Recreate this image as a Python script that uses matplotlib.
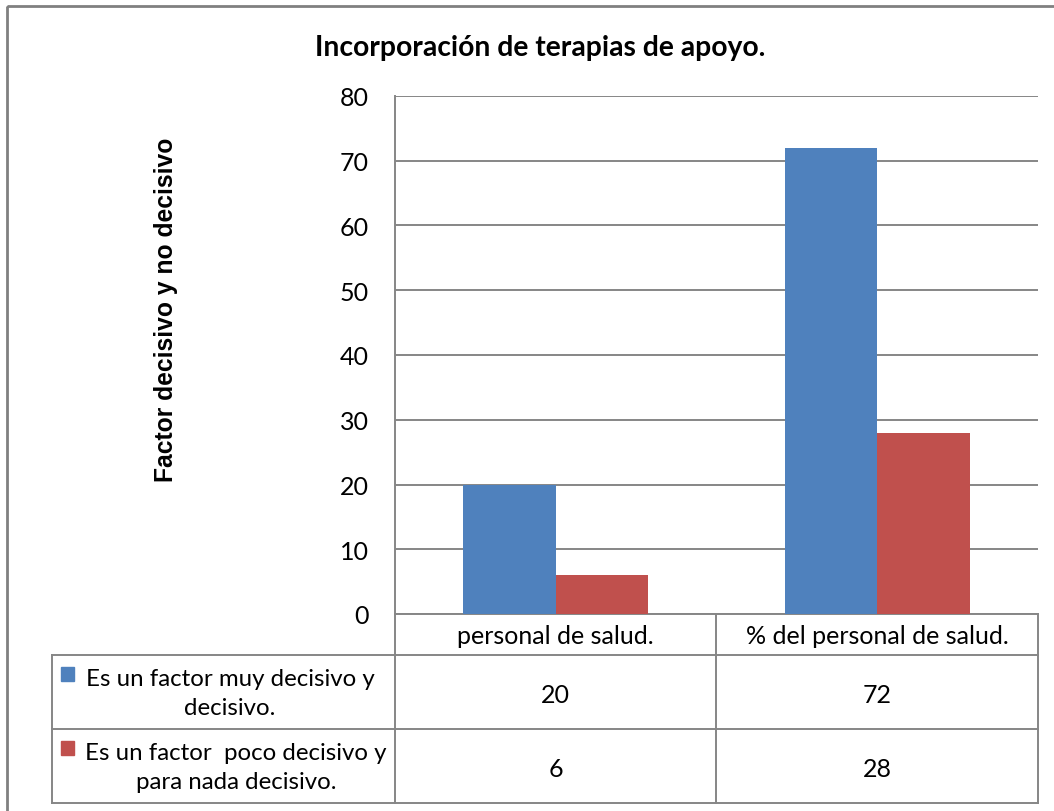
import matplotlib.pyplot as plt
from matplotlib.patches import Rectangle

# data
categories = ['personal de salud.', '% del personal de salud.']
series_names = ['Es un factor muy decisivo y\ndecisivo.',
                'Es un factor  poco decisivo y\npara nada decisivo.']
decisivo = [20, 72]
no_decisivo = [6, 28]
yticks = [0, 10, 20, 30, 40, 50, 60, 70, 80]

colors = ['#4F81BD', '#C0504D']
grid_c = '#868686'
W, H = 1054, 812

plt.rcParams['font.family'] = ['Lato', 'DejaVu Sans']

fig = plt.figure(figsize=(W / 100, H / 100), dpi=100)

# overlay axes in pixel coords for frame and data table
ov = fig.add_axes([0, 0, 1, 1])
ov.set_xlim(0, W)
ov.set_ylim(H, 0)
ov.axis('off')

# plot area
x0, x1, ytop, ybot = 395, 1038, 97, 615
ax = fig.add_axes([x0 / W, 1 - ybot / H, (x1 - x0) / W, (ybot - ytop) / H])
ax.set_zorder(2)
ax.patch.set_alpha(0)

bw = 0.287
xs = range(len(categories))
ax.bar([x - bw / 2 for x in xs], decisivo, bw, color=colors[0], zorder=3)
ax.bar([x + bw / 2 for x in xs], no_decisivo, bw, color=colors[1], zorder=3)
ax.set_xlim(-0.5, len(categories) - 0.5)
ax.set_ylim(0, 80)
ax.set_yticks(yticks)
ax.set_xticks([])
ax.yaxis.grid(True, color=grid_c, linewidth=1.4, zorder=0)
ax.tick_params(axis='y', length=0, labelsize=18, pad=19)
for s in ['top', 'right', 'bottom']:
    ax.spines[s].set_visible(False)
ax.spines['left'].set_color(grid_c)
ax.spines['left'].set_linewidth(1.4)

# outer frame
ov.add_patch(Rectangle((7, 7), 1100, 900, fill=False, edgecolor='#808080', linewidth=2))

# title and y label
ov.text(540, 48, 'Incorporación de terapias de apoyo.', ha='center', va='center',
        fontsize=20.3, fontweight='bold')
ov.text(166, 310, 'Factor decisivo y no decisivo', ha='center', va='center',
        rotation=90, fontsize=17.7, fontweight='bold', family='Liberation Sans')

# data table
col_x = [52, 395, 716, 1038]
row_y = [615, 656, 730, 804]
lw = 1.4
ov.plot([col_x[1], col_x[3]], [row_y[0], row_y[0]], color=grid_c, lw=lw)
for y in row_y[1:]:
    ov.plot([col_x[0], col_x[3]], [y, y], color=grid_c, lw=lw)
ov.plot([col_x[0], col_x[0]], [row_y[1], row_y[3]], color=grid_c, lw=lw)
for x in col_x[1:]:
    ov.plot([x, x], [row_y[0], row_y[3]], color=grid_c, lw=lw)

for j, cat in enumerate(categories):
    cx = (col_x[j + 1] + col_x[j + 2]) / 2
    ov.text(cx, (row_y[0] + row_y[1]) / 2 + 1, cat, ha='center', va='center', fontsize=18)

label_cx = [230, 236]
for i, vals in enumerate([decisivo, no_decisivo]):
    cy = (row_y[i + 1] + row_y[i + 2]) / 2
    for j, v in enumerate(vals):
        cx = (col_x[j + 1] + col_x[j + 2]) / 2
        ov.text(cx, cy + 3, str(v), ha='center', va='center', fontsize=18)
    ov.text(label_cx[i], cy + 1, series_names[i], ha='center', va='center',
            fontsize=17.3, linespacing=1.5, multialignment='center')
    ov.add_patch(Rectangle((61, cy - 25), 13, 14, color=colors[i]))

fig.savefig('out.png', dpi=100)
